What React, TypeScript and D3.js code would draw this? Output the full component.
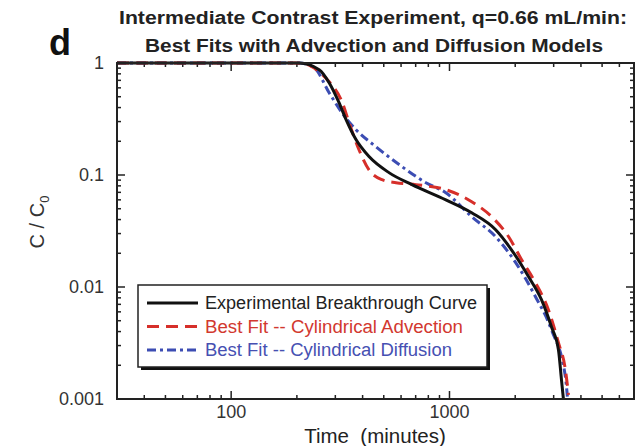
import React from "react";
import * as d3 from "d3";

const xTickValues = [100, 1000];
const xTickLabels = ["100", "1000"];
const yTickValues = [1, 0.1, 0.01, 0.001];
const yTickLabels = ["1", "0.1", "0.01", "0.001"];

const expT = [30, 205, 253, 281, 312, 336, 373, 428, 528, 673, 962, 1264, 1627, 1923, 2300, 2638, 2930, 3155, 3257, 3325];
const expC = [1, 1, 0.871, 0.667, 0.442, 0.312, 0.207, 0.146, 0.105, 0.082, 0.06, 0.046, 0.0325, 0.0215, 0.0124, 0.0077, 0.00442, 0.00275, 0.00149, 0.001];

const advT = [30, 196, 221, 248, 281, 322, 347, 385, 428, 491, 569, 702, 962, 1264, 1560, 1866, 2140, 2477, 2838, 3155, 3395, 3508];
const advC = [1, 1, 0.975, 0.86, 0.68, 0.45, 0.292, 0.168, 0.111, 0.0908, 0.0853, 0.082, 0.074, 0.0578, 0.0424, 0.0281, 0.0175, 0.0109, 0.00627, 0.00318, 0.00183, 0.00109];

const difT = [30, 205, 240, 281, 322, 373, 460, 605, 780, 962, 1264, 1627, 2010, 2477, 2930, 3395, 3467];
const difC = [1, 1, 0.908, 0.543, 0.359, 0.254, 0.179, 0.119, 0.0853, 0.0695, 0.0424, 0.0281, 0.0165, 0.00819, 0.00416, 0.00158, 0.00105];

const legendLabels = [
  "Experimental Breakthrough Curve",
  "Best Fit -- Cylindrical Advection",
  "Best Fit -- Cylindrical Diffusion",
];
const legendWidths = [272, 258, 247];

const W = 640;
const H = 446;
const L = 117, R = 634, T = 63, B = 399;
const FONT = "'Liberation Sans', Arial, Helvetica, sans-serif";

export default function App() {
  const x = d3.scaleLog().domain([30, 7000]).range([L, R]);
  const y = d3.scaleLog().domain([0.001, 1]).range([B, T]);

  const line = d3
    .line<[number, number]>()
    .x((d) => x(d[0]))
    .y((d) => y(d[1]))
    .curve(d3.curveMonotoneX);

  const zip = (a: number[], b: number[]) => a.map((v, i) => [v, b[i]] as [number, number]);

  const series = [
    { d: zip(expT, expC), color: "#111", dash: undefined as string | undefined, text: "#222" },
    { d: zip(advT, advC), color: "#d62f2a", dash: "12,7", text: "#d2382f" },
    { d: zip(difT, difC), color: "#3c4db3", dash: "9,4,3,4", text: "#4650b2" },
  ];

  const xMinor: number[] = [];
  for (let dec = 10; dec <= 1000; dec *= 10)
    for (let k = 2; k <= 9; k++) {
      const v = dec * k;
      if (v >= 30 && v <= 7000) xMinor.push(v);
    }
  const yMinor: number[] = [];
  for (let dec = 0.001; dec < 1; dec *= 10)
    for (let k = 2; k <= 9; k++) yMinor.push(dec * k);

  const tickCol = "#222";
  const maj = 8, mnr = 4;

  return (
    <svg width={W} height={H} style={{ display: "block", position: "absolute", left: 0, top: 0, background: "#fff" }}>
      <rect x={0} y={0} width={W} height={H} fill="#fff" />
      <text x={373} y={24} textAnchor="middle" fontFamily={FONT} fontWeight="bold" fontSize={18} fill="#222" textLength={508} lengthAdjust="spacingAndGlyphs">
        Intermediate Contrast Experiment, q=0.66 mL/min:
      </text>
      <text x={374} y={52} textAnchor="middle" fontFamily={FONT} fontWeight="bold" fontSize={18} fill="#222" textLength={458} lengthAdjust="spacingAndGlyphs">
        Best Fits with Advection and Diffusion Models
      </text>
      <text x={49} y={55} fontFamily={FONT} fontWeight="bold" fontSize={36} fill="#111">d</text>

      <g stroke={tickCol} strokeWidth={1.5}>
        {xTickValues.map((v) => (
          <g key={"xm" + v}>
            <line x1={x(v)} x2={x(v)} y1={B} y2={B - maj} />
            <line x1={x(v)} x2={x(v)} y1={T} y2={T + maj} />
          </g>
        ))}
        {xMinor.map((v) => (
          <g key={"xn" + v}>
            <line x1={x(v)} x2={x(v)} y1={B} y2={B - mnr} />
            <line x1={x(v)} x2={x(v)} y1={T} y2={T + mnr} />
          </g>
        ))}
        {yTickValues.map((v) => (
          <g key={"ym" + v}>
            <line x1={L} x2={L + maj} y1={y(v)} y2={y(v)} />
            <line x1={R} x2={R - maj} y1={y(v)} y2={y(v)} />
          </g>
        ))}
        {yMinor.map((v, i) => (
          <g key={"yn" + i}>
            <line x1={L} x2={L + mnr} y1={y(v)} y2={y(v)} />
            <line x1={R} x2={R - mnr} y1={y(v)} y2={y(v)} />
          </g>
        ))}
      </g>

      <defs>
        <clipPath id="plotclip">
          <rect x={L} y={T - 2} width={R - L} height={B - T + 4} />
        </clipPath>
      </defs>
      <g clipPath="url(#plotclip)" fill="none">
        {series.slice().reverse().map((s, i) => (
          <path key={i} d={line(s.d) || ""} stroke={s.color} strokeWidth={3} strokeDasharray={s.dash} />
        ))}
      </g>

      <rect x={L} y={T} width={R - L} height={B - T} fill="none" stroke="#222" strokeWidth={2} />

      {yTickValues.map((v, i) => (
        <text key={"yl" + v} x={104} y={y(v) + 6} textAnchor="end" fontFamily={FONT} fontSize={18} fill="#333">
          {yTickLabels[i]}
        </text>
      ))}
      {xTickValues.map((v, i) => (
        <text key={"xl" + v} x={x(v)} y={418} textAnchor="middle" fontFamily={FONT} fontSize={18} fill="#333">
          {xTickLabels[i]}
        </text>
      ))}
      <text x={375} y={443} textAnchor="middle" fontFamily={FONT} fontSize={20.5} fill="#222" xmlSpace="preserve">
        Time  (minutes)
      </text>
      <text transform={`translate(44,222) rotate(-90)`} textAnchor="middle" fontFamily={FONT} fontSize={20} fill="#333">
        C / C<tspan fontSize={13} dy={5}>0</tspan>
      </text>

      <rect x={141} y={288} width={349} height={82} fill="#111" />
      <rect x={138} y={285} width={349} height={82} fill="#fff" stroke="#222" strokeWidth={1.5} />
      {series.map((s, i) => (
        <g key={"lg" + i}>
          <line x1={147} x2={198} y1={303 + i * 23.5} y2={303 + i * 23.5} stroke={s.color} strokeWidth={3} strokeDasharray={s.dash} />
          <text x={205} y={303 + i * 23.5 + 6} fontFamily={FONT} fontSize={18} fill={s.text} textLength={legendWidths[i]} lengthAdjust="spacingAndGlyphs">
            {legendLabels[i]}
          </text>
        </g>
      ))}
    </svg>
  );
}
